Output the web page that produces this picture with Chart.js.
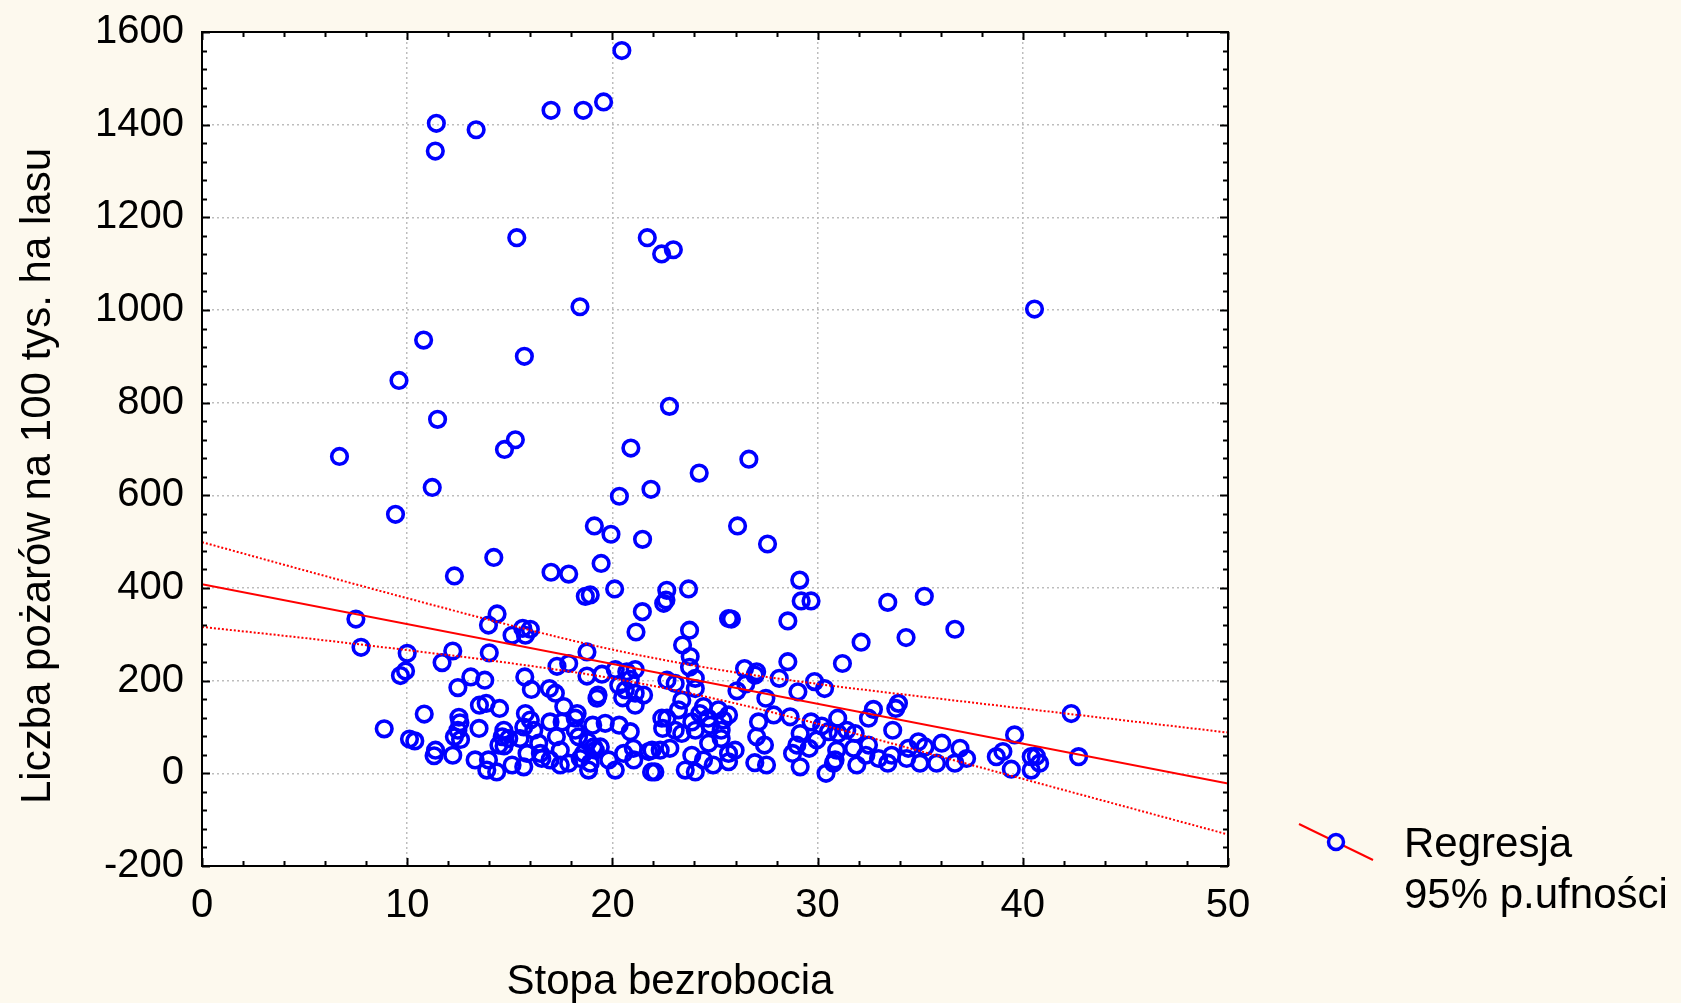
<!DOCTYPE html>
<html>
<head>
<meta charset="utf-8">
<script src="https://cdn.jsdelivr.net/npm/chart.js@4.4.0/dist/chart.umd.min.js"></script>
<style>
  html, body { margin: 0; padding: 0; background: #fdf9ee; }
  #wrap { width: 1681px; height: 1003px; }
</style>
</head>
<body>
<div id="wrap"><canvas id="myChart" width="1681" height="1003"></canvas></div>
<script>
// dane: stopa bezrobocia (x) i liczba pozarow na 100 tys. ha lasu (y)
var stopaBezrobocia = [
  7.50, 7.75, 10.0, 9.92, 9.67, 11.70, 12.22, 12.47, 10.83, 8.88, 10.11, 10.37, 11.38, 11.31, 12.22, 12.52, 12.57, 12.47, 12.30, 12.60,
  13.10, 13.78, 13.50, 13.31, 13.52, 13.85, 14.50, 14.38, 13.96, 14.00, 14.71, 14.63, 14.47, 14.72, 14.95, 14.36, 13.96, 13.88,
  15.63, 16.00, 15.11, 15.76, 15.73, 16.05, 16.93, 15.76, 16.00, 16.17, 15.68, 15.50, 16.41, 16.49, 16.96, 16.96, 16.56, 15.84, 15.68, 15.11,
  17.22, 17.30, 17.87, 18.76, 18.76, 17.63, 17.55, 18.19, 18.28, 17.27, 17.46, 18.19, 18.35, 18.81, 17.87, 17.46, 18.84, 18.92, 18.43, 18.60, 18.92, 18.68,
  19.49, 20.14, 20.70, 20.87, 20.31, 20.63, 20.50, 19.30, 19.25, 19.09, 19.04, 19.65, 20.33, 20.87, 19.17, 19.41, 21.04, 20.55, 20.14, 19.82, 20.11,
  21.11, 21.11, 21.52, 21.11, 22.66, 21.77, 21.93, 22.33, 22.80, 21.02, 22.41, 22.66, 22.45, 21.91, 22.07, 22.65, 22.61, 22.50, 21.46, 21.15,
  23.06, 24.04, 24.04, 23.38, 23.22, 24.44, 25.17, 24.26, 24.67, 23.06, 23.38, 23.87, 24.04, 24.77, 24.69, 23.87, 24.44, 24.04, 23.55, 24.91, 23.71, 23.76, 23.42, 23.79, 23.76,
  25.66, 25.80, 28.55, 28.55, 26.44, 27.03, 26.95, 28.13, 26.50, 26.07, 27.48, 25.66, 27.86, 28.66, 27.12, 27.03, 25.40, 25.30, 25.30, 27.41, 25.98, 25.66, 25.66, 26.94, 27.51, 28.78,
  29.20, 29.68, 32.12, 31.21, 29.85, 30.34, 29.04, 29.68, 30.20, 30.53, 30.98, 31.00, 31.42, 29.15, 28.99, 29.59, 29.96, 29.15, 30.41, 30.93, 30.85, 30.77, 31.83, 31.75, 31.91, 32.48, 32.35, 32.97, 32.48, 32.72,
  33.42, 35.20, 36.69, 34.31, 33.94, 33.81, 33.66, 33.42, 33.61, 34.42, 34.34, 34.91, 34.99, 35.23, 35.80, 36.05, 36.69, 36.94, 37.26,
  38.71, 39.03, 39.44, 39.60, 40.41, 40.66, 40.82, 40.41, 42.36, 42.72,
  20.46, 19.57, 18.58, 17.01, 11.42, 13.36, 11.37, 15.34, 21.70, 22.40, 22.97, 18.42, 40.57, 10.80, 15.71, 9.60, 22.78, 11.48, 6.70, 20.90,
  15.27, 14.74, 26.65, 24.23, 11.22, 21.88, 20.34, 9.43, 19.12, 26.10, 19.93, 21.47, 27.56, 14.22, 19.45, 17.01, 17.87, 12.30, 29.13
];
var liczbaPozarow = [
  333, 272, 259, 221, 211, 239, 264, 185, 128, 96, 74, 70, 50, 38, 39, 121, 109, 93, 79, 73,
  208, 201, 97, 29, 147, 151, 140, 344, 320, 260, 93, 79, 61, 59, 75, 3, 29, 7,
  313, 311, 298, 298, 208, 181, 183, 129, 115, 93, 100, 75, 65, 43, 111, 29, 32, 43, 14, 18,
  173, 231, 237, 262, 210, 144, 111, 119, 129, 79, 50, 93, 79, 68, 22, 18, 7, 22, 32, 43, 385, 382,
  214, 224, 219, 203, 190, 180, 163, 169, 162, 57, 104, 108, 104, 90, 50, 57, 29, 43, 7, 29, 398,
  224, 173, 169, 147, 201, 47, 50, 50, 54, 54, 119, 119, 97, 3, 3, 395, 374, 367, 349, 305,
  194, 205, 183, 158, 137, 144, 137, 129, 119, 93, 86, 111, 93, 104, 65, 39, 29, 3, 7, 18, 398, 309, 277, 252, 229,
  334, 333, 329, 241, 226, 219, 212, 205, 193, 178, 162, 126, 126, 122, 111, 79, 115, 93, 75, 61, 50, 43, 25, 23, 18, 43,
  372, 372, 283, 237, 198, 183, 176, 111, 102, 90, 119, 86, 93, 86, 61, 54, 72, 14, 0, 50, 29, 22, 86, 54, 18, 61, 39, 32, 119, 138,
  369, 382, 311, 293, 151, 140, 93, 22, 39, 54, 32, 68, 22, 57, 22, 65, 22, 54, 32,
  36, 47, 9, 83, 36, 37, 22, 7, 129, 36,
  1560, 1449, 1431, 1431, 1403, 1389, 1343, 1156, 1156, 1121, 1130, 1007, 1002, 935, 900, 848, 792, 764, 684, 702,
  720, 699, 678, 648, 617, 613, 598, 559, 534, 534, 516, 505, 495, 466, 453, 434, 430, 426, 417
];

// linia regresji i przedzial ufnosci 95%
var regresjaX = [0, 50];
var regresjaY = [408, -22];
var ufnoscX = [0, 5, 10, 15, 20, 25, 30, 35, 40, 45, 50];
var ufnoscGorna = [499, 438, 378, 320, 267, 225, 193, 166, 140, 114, 88];
var ufnoscDolna = [316, 292, 266, 238, 205, 161, 107, 48, -12, -72, -132];

var FONT = "'Liberation Sans', Arial, sans-serif";
var TLO = "#fdf9ee";

function pary(xs, ys) {
  return xs.map(function (x, i) { return { x: x, y: ys[i] }; });
}

// tlo, ramka, male kreski na osiach i legenda
var ramka = {
  id: "ramka",
  beforeDraw: function (chart) {
    var c = chart.ctx, a = chart.chartArea;
    c.save();
    c.fillStyle = TLO;
    c.fillRect(0, 0, chart.width, chart.height);
    c.fillStyle = "#ffffff";
    c.fillRect(a.left, a.top, a.right - a.left, a.bottom - a.top);
    c.restore();
  },
  afterDraw: function (chart) {
    var c = chart.ctx, a = chart.chartArea;
    var sx = chart.scales.x, sy = chart.scales.y;
    c.save();
    c.strokeStyle = "#000";
    c.lineWidth = 2;
    c.beginPath();
    // kreski na osi x co 2, dluzsze co 10
    for (var v = 0; v <= 50; v += 2) {
      var px = Math.round(sx.getPixelForValue(v)) + 0.5;
      var len = v % 10 === 0 ? 8 : 5;
      c.moveTo(px, a.bottom); c.lineTo(px, a.bottom - len);
      c.moveTo(px, a.top); c.lineTo(px, a.top + len);
    }
    // kreski na osi y co 40, dluzsze co 200
    for (var w = -200; w <= 1600; w += 40) {
      var py = Math.round(sy.getPixelForValue(w)) + 0.5;
      var l2 = (w % 200 === 0) ? 8 : 5;
      c.moveTo(a.left, py); c.lineTo(a.left + l2, py);
      c.moveTo(a.right, py); c.lineTo(a.right - l2, py);
    }
    c.stroke();
    c.lineWidth = 2;
    c.strokeRect(a.left, a.top, a.right - a.left, a.bottom - a.top);

    // tytuly osi
    c.fillStyle = "#000";
    c.font = "42px " + FONT;
    c.textAlign = "center";
    c.textBaseline = "alphabetic";
    c.fillText("Stopa bezrobocia", a.left + 468, chart.height - 9);
    c.save();
    c.translate(50, a.top + 444);
    c.rotate(-Math.PI / 2);
    c.fillText("Liczba pożarów na 100 tys. ha lasu", 0, 0);
    c.restore();

    // legenda
    var lx = a.right + 71, ly = a.bottom - 42;
    c.strokeStyle = "#ff0000";
    c.lineWidth = 2;
    c.beginPath();
    c.moveTo(lx, ly);
    c.lineTo(lx + 74, ly + 36);
    c.stroke();
    c.beginPath();
    c.arc(lx + 37, ly + 18, 7.5, 0, Math.PI * 2);
    c.fillStyle = TLO;
    c.fill();
    c.strokeStyle = "#0000ff";
    c.lineWidth = 3.5;
    c.stroke();
    c.fillStyle = "#000";
    c.font = "42px " + FONT;
    c.textAlign = "left";
    c.fillText("Regresja", lx + 105, ly + 33);
    c.fillText("95% p.ufności", lx + 105, ly + 84);
    c.restore();
  }
};

var ctx = document.getElementById("myChart");
var myChart = new Chart(ctx, {
  type: "scatter",
  data: {
    datasets: [
      {
        label: "Regresja",
        data: pary(regresjaX, regresjaY),
        showLine: true,
        borderColor: "#ff0000",
        borderWidth: 2,
        pointRadius: 0,
        order: 0,
      },
      {
        label: "95% gorna",
        data: pary(ufnoscX, ufnoscGorna),
        showLine: true,
        borderColor: "#ff0000",
        borderWidth: 2,
        borderDash: [2, 2],
        cubicInterpolationMode: "monotone",
        pointRadius: 0,
        order: 0,
      },
      {
        label: "95% dolna",
        data: pary(ufnoscX, ufnoscDolna),
        showLine: true,
        borderColor: "#ff0000",
        borderWidth: 2,
        borderDash: [2, 2],
        cubicInterpolationMode: "monotone",
        pointRadius: 0,
        order: 0,
      },
      {
        label: "Dane",
        data: pary(stopaBezrobocia, liczbaPozarow),
        pointStyle: "circle",
        pointRadius: 7.8,
        borderWidth: 3.6,
        pointBorderWidth: 3.6,
        borderColor: "#0000ff",
        pointBorderColor: "#0000ff",
        pointBackgroundColor: "rgba(0,0,0,0)",
        order: 1,
      },
    ],
  },
  options: {
    responsive: false,
    animation: false,
    devicePixelRatio: 1,
    layout: { padding: { top: 32, right: 453, left: 0, bottom: 0 } },
    plugins: { legend: { display: false }, tooltip: { enabled: false } },
    scales: {
      x: {
        type: "linear",
        min: 0,
        max: 50,
        ticks: {
          stepSize: 10, color: "#000", padding: 16, maxRotation: 0,
          font: { family: FONT, size: 40 },
          callback: function (v) { return String(v); },
        },
        grid: { color: "#bdbdbd", lineWidth: 1.5, drawTicks: false },
        border: { display: false, dash: [2, 3] },
        afterFit: function (s) { s.height = 137; s.paddingLeft = 0; s.paddingRight = 0; },
      },
      y: {
        min: -200,
        max: 1600,
        ticks: {
          stepSize: 200, color: "#000", padding: 18,
          font: { family: FONT, size: 40 },
          callback: function (v) { return String(v); },
        },
        grid: { color: "#bdbdbd", lineWidth: 1.5, drawTicks: false },
        border: { display: false, dash: [2, 3] },
        afterFit: function (s) { s.width = 202; s.paddingTop = 0; s.paddingBottom = 0; },
      },
    },
  },
  plugins: [ramka],
});
</script>
</body>
</html>
